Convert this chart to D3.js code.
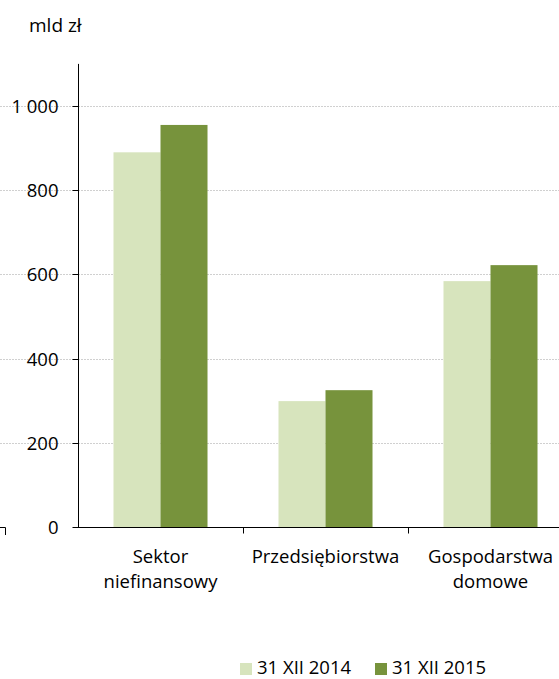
<!DOCTYPE html>
<html><head><meta charset="utf-8">
<script src="https://cdn.jsdelivr.net/npm/d3@7"></script>
<style>body{margin:0;background:#fff}svg{display:block}text{font-family:"Open Sans",sans-serif;fill:#000}</style>
</head><body>
<svg id="c" width="559" height="679"></svg>
<script>
const categories = [["Sektor","niefinansowy"],["Przedsiębiorstwa"],["Gospodarstwa","domowe"]];
const seriesNames = ["31 XII 2014","31 XII 2015"];
const values2014 = [890, 299, 584];
const values2015 = [955, 325, 622];
const yTicks = [0,200,400,600,800,1000];
const colors = ["#d7e4bd","#77933c"];

const svg = d3.select("#c");
const x0 = 78, x1 = 573, yBottom = 527;
const FS = 18.5;
const y = d3.scaleLinear().domain([0,1100]).range([yBottom, yBottom-1100*0.421]);
const x = d3.scaleBand().domain(d3.range(categories.length)).range([x0,x1]).paddingInner(0).paddingOuter(0);
const xs = d3.scaleBand().domain([0,1]).range([0, x.bandwidth()]).paddingInner(0).paddingOuter(0.755);

// gridlines
svg.append("g").selectAll("line").data(yTicks.filter(d=>d>0)).join("line")
  .attr("x1",0).attr("x2",559).attr("y1",d=>Math.round(y(d))+0.5).attr("y2",d=>Math.round(y(d))+0.5)
  .attr("stroke","#d0d0d0").attr("stroke-dasharray","2,1").attr("stroke-width",1);

// bars
const series = [values2014, values2015];
series.forEach((vals,si)=>{
  svg.append("g").selectAll("rect").data(vals).join("rect")
    .attr("x",(d,i)=>x(i)+xs(si)).attr("width",xs.bandwidth())
    .attr("y",d=>y(d)).attr("height",d=>yBottom-y(d))
    .attr("fill",colors[si]);
});

// y axis
const yAxis = d3.axisLeft(y).tickValues(yTicks).tickSize(6).tickPadding(14)
  .tickFormat(d=>d3.format(",")(d).replace(",", " "));
const ga = svg.append("g").attr("transform",`translate(${x0+0.5},0)`).call(yAxis);
ga.select(".domain").attr("d",`M0,${y(1100)}V${yBottom}`).attr("stroke","#000");
ga.selectAll(".tick").attr("transform",d=>`translate(0,${Math.round(y(d))+0.5})`);
ga.selectAll(".tick line").attr("stroke","#000");
ga.selectAll(".tick text").attr("font-size",FS).attr("fill","#000").attr("dy","0.35em");

// stray edge mark at left
svg.append("path").attr("d",`M0,${yBottom+0.5}H5.5V535`).attr("fill","none").attr("stroke","#000").attr("stroke-width",1);

// x axis
const gx = svg.append("g").attr("transform",`translate(0,${yBottom+0.5})`);
gx.append("line").attr("x1",x0).attr("x2",559).attr("stroke","#000");
gx.selectAll(".tk").data(d3.range(1,categories.length)).join("line")
  .attr("x1",d=>Math.round(x(d))+0.5).attr("x2",d=>Math.round(x(d))+0.5).attr("y1",0).attr("y2",6).attr("stroke","#000");
categories.forEach((lines,i)=>{
  const cx = x(i)+x.bandwidth()/2;
  const t = gx.append("text").attr("text-anchor","middle").attr("font-size",FS)
    .attr("x",cx).attr("y",35);
  lines.forEach((l,j)=>t.append("tspan").attr("x",cx).attr("dy",j?25:0).text(l));
});

// unit label
svg.append("text").attr("x",29).attr("y",32).attr("font-size",19).text("mld zł");

// legend
const legX = [240, 375];
seriesNames.forEach((n,i)=>{
  svg.append("rect").attr("x",legX[i]).attr("y",663).attr("width",12).attr("height",12).attr("fill",colors[i]);
  svg.append("text").attr("x",legX[i]+17).attr("y",674).attr("font-size",FS).text(n);
});
</script>
</body></html>
